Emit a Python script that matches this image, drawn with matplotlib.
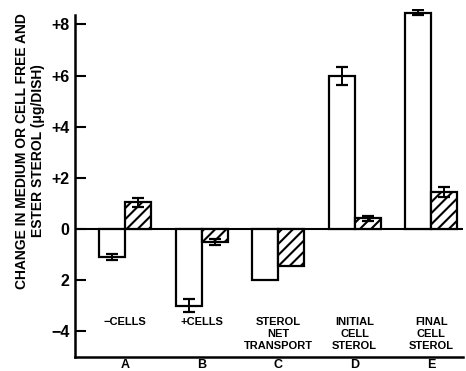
import numpy as np
import matplotlib.pyplot as plt

plt.rcParams['font.family'] = ['Liberation Sans', 'DejaVu Sans']
plt.rcParams['font.weight'] = 'bold'
plt.rcParams['hatch.linewidth'] = 1.5

# values
groups = ['A', 'B', 'C', 'D', 'E']
conditions = ['\u2212CELLS', '+CELLS', 'STEROL\nNET\nTRANSPORT',
              'INITIAL\nCELL\nSTEROL', 'FINAL\nCELL\nSTEROL']
open_vals = [-1.1, -3.0, -2.0, 6.0, 8.45]
open_err = [0.12, 0.25, 0.0, 0.35, 0.1]
hatched_vals = [1.05, -0.5, -1.45, 0.43, 1.45]
hatched_err = [0.18, 0.12, 0.0, 0.1, 0.2]
ytick_vals = [8, 6, 4, 2, 0, -2, -4]
ytick_labels = ['+8', '+6', '+4', '+2', '0', '2', '\u22124']

x = np.arange(len(groups))
w = 0.34

fig = plt.figure(figsize=(4.66, 3.71), dpi=100)
ax = fig.add_axes([0.161, 0.0377, 0.833, 0.938])

ax.bar(x - w / 2, open_vals, w, color='white', edgecolor='black', linewidth=1.6)
ax.bar(x + w / 2, hatched_vals, w, color='white', edgecolor='black',
       linewidth=1.6, hatch='///')

# error bars (none drawn for C)
for vals, err, off in [(open_vals, open_err, -w / 2), (hatched_vals, hatched_err, w / 2)]:
    for xi, v, e in zip(x, vals, err):
        if e > 0:
            ax.errorbar(xi + off, v, yerr=e, fmt='none', ecolor='black',
                        elinewidth=1.4, capsize=4, capthick=1.6)

ax.axhline(0, color='black', linewidth=1.5, zorder=0.5)

ax.set_xlim(-0.654, 4.42)
ax.set_ylim(-5.0, 8.6)

for side in ['top', 'right']:
    ax.spines[side].set_visible(False)
for side in ['left', 'bottom']:
    ax.spines[side].set_linewidth(1.8)
ax.spines['left'].set_bounds(-5.0, 8.35)

ax.set_yticks(ytick_vals)
ax.set_yticklabels(ytick_labels, fontsize=11.5, fontweight='bold')
ax.tick_params(axis='y', direction='in', length=8, width=1.5, pad=4)

ax.set_xticks(x)
ax.set_xticklabels(groups, fontsize=9, fontweight='bold')
ax.tick_params(axis='x', length=0, pad=1.5)

for xi, lab in zip(x, conditions):
    ax.text(xi, -3.45, lab, ha='center', va='top', fontsize=8,
            fontweight='bold', linespacing=1.25)

fig.text(0.064, 1 - 151 / 371,
         'CHANGE IN MEDIUM OR CELL FREE AND\nESTER STEROL (\u03bcg/DISH)',
         rotation=90, ha='center', va='center', multialignment='center',
         fontsize=10, fontweight='bold', linespacing=1.15)

fig.savefig('out.png', dpi=100)
